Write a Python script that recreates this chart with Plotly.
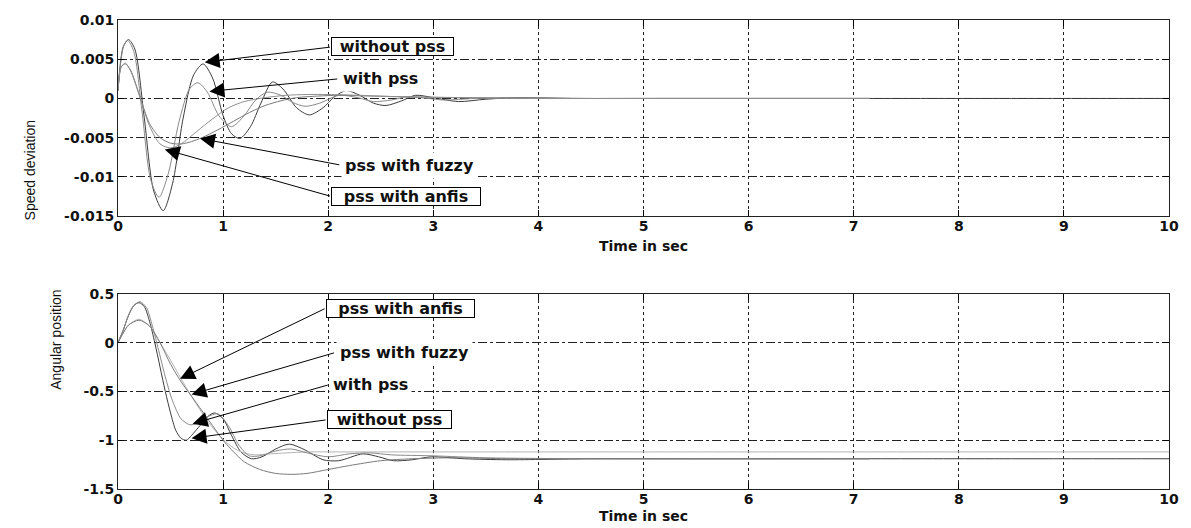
import plotly.graph_objects as go

# ---- Speed deviation (upper panel) ----
sd_without_t = [0, 0.05, 0.1, 0.16, 0.25, 0.34, 0.43, 0.52, 0.62, 0.72, 0.81, 0.9, 1.0, 1.08, 1.16, 1.26, 1.36, 1.47,
                1.57, 1.7, 1.82, 1.95, 2.06, 2.17, 2.3, 2.43, 2.55, 2.7, 2.83, 3.0, 3.24, 3.5, 3.8, 4.3, 5, 6, 7, 8, 9, 10]
sd_without_v = [0.001, 0.0066, 0.0075, 0.0063, -0.0025, -0.0118, -0.0143, -0.0108, -0.0025, 0.0030, 0.0044, 0.0026,
                -0.0022, -0.0045, -0.0051, -0.0036, -0.0006, 0.0021, 0.0012, -0.0012, -0.0021, -0.0012, 0.0002, 0.0010,
                0.0004, -0.0006, -0.0009, -0.0003, 0.0004, 0.0001, -0.0004, -0.0001, 0.0001, 0, 0, 0, 0, 0, 0, 0]

sd_with_t = [0, 0.05, 0.09, 0.15, 0.23, 0.31, 0.39, 0.48, 0.58, 0.68, 0.76, 0.85, 0.96, 1.08, 1.2, 1.31, 1.42, 1.55,
             1.66, 1.78, 1.92, 2.1, 2.28, 2.43, 2.6, 2.75, 2.95, 3.1, 3.4, 3.8, 4.5, 5.5, 6.5, 7.15]
sd_with_v = [0.001, 0.0065, 0.0074, 0.006, -0.0018, -0.0103, -0.0126, -0.0095, -0.0030, 0.0012, 0.0020, 0.0008,
             -0.0022, -0.0036, -0.0022, -0.0002, 0.0008, 0.0004, -0.0005, -0.0010, -0.0006, 0.0004, 0.0001, -0.0004,
             -0.0002, 0.0002, 0.0, -0.0002, 0.0, 0.0001, 0, 0, 0, 0]

sd_fuzzy_t = [0, 0.03, 0.07, 0.12, 0.2, 0.3, 0.4, 0.5, 0.6, 0.7, 0.8, 0.95, 1.1, 1.25, 1.4, 1.55, 1.7, 1.9, 2.1,
              2.4, 2.8, 3.3, 4, 5, 6, 7.15]
sd_fuzzy_v = [0.001, 0.0040, 0.0044, 0.0036, 0.0006, -0.0032, -0.0050, -0.0057, -0.0058, -0.0055, -0.0050, -0.0040,
              -0.0029, -0.0018, -0.0009, -0.0003, 0.0001, 0.0003, 0.0004, 0.0003, 0.0002, 0.0001, 0, 0, 0, 0]

sd_anfis_t = [0, 0.03, 0.07, 0.12, 0.2, 0.3, 0.4, 0.5, 0.6, 0.75, 0.9, 1.05, 1.2, 1.4, 1.6, 1.8, 2.0, 2.3, 2.7, 3.2,
              4, 5, 6, 7.15]
sd_anfis_v = [0.001, 0.0040, 0.0045, 0.0035, 0.0005, -0.0035, -0.0058, -0.0063, -0.0058, -0.0042, -0.0026, -0.0012,
              -0.0004, 0.0001, 0.0004, 0.0005, 0.0005, 0.0004, 0.0002, 0.0001, 0, 0, 0, 0]

# ---- Angular position (lower panel) ----
ap_without_t = [0, 0.05, 0.1, 0.15, 0.2, 0.25, 0.3, 0.35, 0.4, 0.45, 0.5, 0.55, 0.6, 0.65, 0.7, 0.78, 0.85, 0.92,
                1.0, 1.08, 1.17, 1.27, 1.37, 1.5, 1.63, 1.78, 1.95, 2.1, 2.33, 2.48, 2.62, 2.8, 2.98, 3.3, 3.7, 4.5,
                5.5, 7, 8.5, 10]
ap_without_v = [0, 0.13, 0.28, 0.38, 0.41, 0.37, 0.22, 0.0, -0.25, -0.5, -0.72, -0.9, -0.98, -1.0, -0.95, -0.85,
                -0.76, -0.72, -0.78, -0.95, -1.12, -1.19, -1.17, -1.09, -1.04, -1.1, -1.2, -1.21, -1.14, -1.17,
                -1.21, -1.2, -1.17, -1.19, -1.2, -1.19, -1.19, -1.19, -1.19, -1.19]

ap_with_t = [0, 0.05, 0.1, 0.15, 0.21, 0.27, 0.32, 0.38, 0.45, 0.52, 0.6, 0.68, 0.75, 0.85, 0.95, 1.05, 1.15, 1.25,
             1.35, 1.5, 1.65, 1.8, 2.0, 2.2, 2.4, 2.6, 3.0, 3.5, 4.5, 7.15]
ap_with_v = [0, 0.13, 0.28, 0.38, 0.42, 0.36, 0.2, -0.05, -0.35, -0.6, -0.78, -0.84, -0.83, -0.76, -0.73, -0.85,
             -1.05, -1.16, -1.16, -1.11, -1.09, -1.13, -1.17, -1.14, -1.13, -1.15, -1.16, -1.18, -1.19, -1.19]

ap_fuzzy_t = [0, 0.05, 0.1, 0.2, 0.3, 0.4, 0.5, 0.6, 0.7, 0.8, 0.9, 1.0, 1.1, 1.2, 1.35, 1.5, 1.65, 1.8, 2.0, 2.2,
              2.5, 2.8, 3.2, 3.7, 4.5, 7.15]
ap_fuzzy_v = [0, 0.1, 0.18, 0.23, 0.17, 0.0, -0.22, -0.4, -0.55, -0.7, -0.85, -1.0, -1.12, -1.22, -1.3, -1.34, -1.35,
              -1.34, -1.3, -1.26, -1.21, -1.19, -1.18, -1.19, -1.19, -1.19]

ap_anfis_t = [0, 0.05, 0.1, 0.2, 0.3, 0.4, 0.5, 0.6, 0.7, 0.8, 0.9, 1.0, 1.1, 1.2, 1.3, 1.45, 1.6, 1.8, 2.1, 2.5, 3,
              4, 6, 8, 10]
ap_anfis_v = [0, 0.1, 0.18, 0.24, 0.17, 0.0, -0.18, -0.37, -0.55, -0.72, -0.87, -0.99, -1.08, -1.13, -1.15, -1.14,
              -1.13, -1.12, -1.12, -1.12, -1.12, -1.12, -1.12, -1.12, -1.12]

x_ticks = [0, 1, 2, 3, 4, 5, 6, 7, 8, 9, 10]
sd_ticks = [0.01, 0.005, 0, -0.005, -0.01, -0.015]
sd_ticktext = ["0.01", "0.005", "0", "-0.005", "-0.01", "-0.015"]
ap_ticks = [0.5, 0, -0.5, -1, -1.5]
ap_ticktext = ["0.5", "0", "-0.5", "-1", "-1.5"]

# label text, arrow tip (t, value), text box left/centre (t, value), box width in px (None = no frame)
sd_labels = [
    ("without pss", (0.825, 0.0046), (2.03, 0.00656), 121),
    ("with pss", (0.87, 0.0009), (2.10, 0.0025), None),
    ("pss with fuzzy", (0.78, -0.0051), (2.12, -0.0085), None),
    ("pss with anfis", (0.445, -0.0065), (2.03, -0.0125), 148),
]
ap_labels = [
    ("pss with anfis", (0.59, -0.37), (1.98, 0.355), 147),
    ("pss with fuzzy", (0.70, -0.53), (2.07, -0.10), None),
    ("with pss", (0.71, -0.83), (2.01, -0.43), None),
    ("without pss", (0.70, -0.98), (1.99, -0.79), 123),
]

FONT = "DejaVu Sans"
fig = go.Figure()

def add_curves(xa, ya, series):
    for t, v, color in series:
        fig.add_trace(go.Scatter(x=t, y=v, mode="lines", xaxis=xa, yaxis=ya, showlegend=False,
                                 line=dict(color=color, width=1, shape="spline", smoothing=0.8)))

add_curves("x", "y", [
    (sd_without_t, sd_without_v, "#3c3c3c"),
    (sd_with_t, sd_with_v, "#8a8a8a"),
    (sd_fuzzy_t, sd_fuzzy_v, "#7a7a7a"),
    (sd_anfis_t, sd_anfis_v, "#8f8f8f"),
])
add_curves("x2", "y2", [
    (ap_without_t, ap_without_v, "#3c3c3c"),
    (ap_anfis_t, ap_anfis_v, "#b4b4b4"),
    (ap_with_t, ap_with_v, "#8a8a8a"),
    (ap_fuzzy_t, ap_fuzzy_v, "#7a7a7a"),
])

annotations = []

def add_labels(labels, xr, yr):
    for text, tip, box, width in labels:
        annotations.append(dict(
            x=tip[0], y=tip[1], ax=box[0], ay=box[1], xref=xr, yref=yr, axref=xr, ayref=yr,
            text="", showarrow=True, arrowhead=2, arrowsize=3, arrowwidth=1, arrowcolor="black"))
        ann = dict(x=box[0], y=box[1], xref=xr, yref=yr, text=text, showarrow=False,
                   xanchor="left", yanchor="middle", bgcolor="white",
                   font=dict(family=FONT, size=16, color="#111", weight="bold"))
        if width:
            ann.update(bordercolor="black", borderwidth=1, borderpad=0, width=width, height=17,
                       align="center")
        else:
            ann.update(borderpad=3)
        annotations.append(ann)

add_labels(sd_labels, "x", "y")
add_labels(ap_labels, "x2", "y2")

# axis titles
annotations += [
    dict(x=-0.0929, y=0.791, xref="paper", yref="paper", text="Speed deviation", textangle=-90,
         showarrow=False, font=dict(family="Liberation Sans", size=14, color="#111")),
    dict(x=-0.0682, y=0.208, xref="paper", yref="paper", text="Angular position", textangle=-90,
         showarrow=False, font=dict(family="Liberation Sans", size=14, color="#111")),
    dict(x=0.5, y=0.519, xref="paper", yref="paper", text="Time in sec", showarrow=False,
         yanchor="middle", font=dict(family=FONT, size=14, color="#111", weight="bold")),
    dict(x=0.5, y=-0.0567, xref="paper", yref="paper", text="Time in sec", showarrow=False,
         yanchor="middle", font=dict(family=FONT, size=14, color="#111", weight="bold")),
]

tickfont = dict(family=FONT, size=14, color="#111", weight="bold")
xcommon = dict(range=[0, 10], tickvals=x_ticks, ticks="inside", ticklen=6, tickcolor="black",
               showline=True, linecolor="#222", linewidth=1, mirror="ticks",
               showgrid=True, gridcolor="#222", gridwidth=1, griddash="dot", zeroline=False,
               tickfont=tickfont, ticklabelstandoff=-3)
ycommon = dict(ticks="inside", ticklen=6, tickcolor="black", showline=True, linecolor="#222", linewidth=1,
               mirror="ticks", showgrid=True, gridcolor="#222", gridwidth=1, griddash="dashdot",
               zeroline=False, tickfont=tickfont)

fig.update_layout(
    width=1191, height=528, margin=dict(l=118, r=18, t=13, b=39),
    paper_bgcolor="white", plot_bgcolor="white",
    xaxis=dict(domain=[0, 1], anchor="y", **xcommon),
    yaxis=dict(domain=[0.5819, 1], anchor="x", range=[-0.015, 0.01], tickvals=sd_ticks,
               ticktext=sd_ticktext, **ycommon),
    xaxis2=dict(domain=[0, 1], anchor="y2", **xcommon),
    yaxis2=dict(domain=[0, 0.416], anchor="x2", range=[-1.5, 0.5], tickvals=ap_ticks,
                ticktext=ap_ticktext, **ycommon),
    annotations=annotations,
)

fig.write_html("out.html")
